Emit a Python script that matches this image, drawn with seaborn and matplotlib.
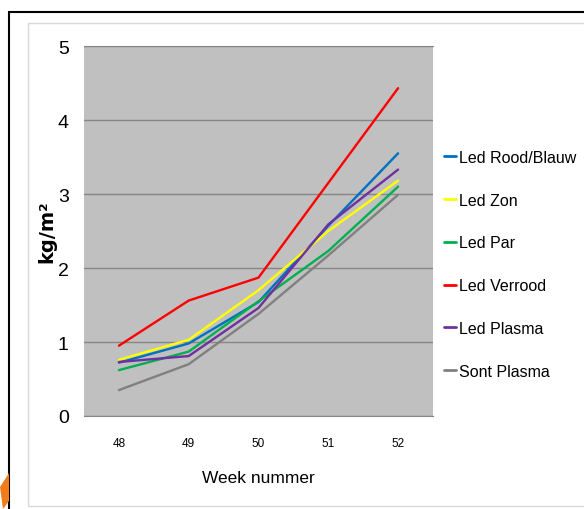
import matplotlib
matplotlib.use("Agg")
import matplotlib.pyplot as plt
import matplotlib.patches as mpatches
import seaborn as sns
import pandas as pd
from matplotlib.ticker import FixedLocator

# Weekly cumulative yield per lighting treatment (kg/m²)
weeks = ["48", "49", "50", "51", "52"]
led_rood_blauw = [0.72, 0.98, 1.54, 2.57, 3.55]
led_zon = [0.76, 1.03, 1.70, 2.50, 3.18]
led_par = [0.62, 0.87, 1.55, 2.23, 3.10]
led_verrood = [0.95, 1.56, 1.87, 3.15, 4.43]
led_plasma = [0.73, 0.81, 1.46, 2.59, 3.33]
sont_plasma = [0.35, 0.70, 1.38, 2.17, 2.99]

series_names = ["Led Rood/Blauw", "Led Zon", "Led Par", "Led Verrood",
                "Led Plasma", "Sont Plasma"]
series_values = [led_rood_blauw, led_zon, led_par, led_verrood,
                 led_plasma, sont_plasma]
colors = ["#0070C0", "#FFFF00", "#00B050", "#FF0000", "#7030A0", "#808080"]

rows = []
for name, vals in zip(series_names, series_values):
    for w, v in zip(weeks, vals):
        rows.append({"week": w, "value": v, "serie": name})
df = pd.DataFrame(rows)

sns.set_style("white")
plt.rcParams["font.family"] = ["Liberation Sans", "DejaVu Sans"]

fig = plt.figure(figsize=(5.84, 5.10), dpi=100)

# outer frame and inner chart border
fig.add_artist(mpatches.Rectangle((9 / 584, -0.1), 1.0, (510 - 13) / 510 + 0.1,
                                  transform=fig.transFigure, fill=False,
                                  edgecolor="black", linewidth=1.5))
fig.add_artist(mpatches.Rectangle((28 / 584, (510 - 507) / 510), 1.0,
                                  (507 - 24) / 510,
                                  transform=fig.transFigure, fill=False,
                                  edgecolor="#d9d9d9", linewidth=1.0))
# small orange corner mark
fig.add_artist(mpatches.Polygon([(0, 22 / 510), (9 / 584, 36 / 510),
                                 (9 / 584, 8 / 510), (3 / 584, 0)],
                                closed=True, transform=fig.transFigure,
                                facecolor="#F07D1A", edgecolor="none"))

ax = fig.add_axes([84 / 584, (510 - 417) / 510, 349 / 584, 370 / 510])
ax.set_facecolor("#C0C0C0")

sns.lineplot(data=df, x="week", y="value", hue="serie",
             hue_order=series_names, palette=colors, linewidth=1.7,
             sort=False, ax=ax, legend=True)

ax.set_xlim(-0.5, 4.5)
ax.set_ylim(0, 5)
ax.set_yticks([0, 1, 2, 3, 4, 5])
ax.set_yticklabels(["0", "1", "2", "3", "4", "5"], fontsize=14)
ax.yaxis.grid(True, color="#868686", linewidth=1)
ax.set_axisbelow(True)
ax.tick_params(axis="y", length=6, width=1, color="#868686", pad=5,
               labelcolor="black")

ax.set_xticks(range(5))
ax.set_xticklabels(weeks, fontsize=8.5)
ax.tick_params(axis="x", which="major", length=0, pad=15, labelcolor="black")
ax.xaxis.set_minor_locator(FixedLocator([-0.5, 0.5, 1.5, 2.5, 3.5, 4.5]))
ax.tick_params(axis="x", which="minor", length=6, width=1, color="#868686")

for side in ["left", "right"]:
    ax.spines[side].set_visible(False)
ax.spines["top"].set_color("#868686")
ax.spines["bottom"].set_color("#868686")

ax.set_xlabel("Week nummer", fontsize=12.5, labelpad=15, color="black")
ax.set_ylabel("kg/m²", fontsize=14, fontweight="bold",
              family=["DejaVu Sans"], color="black")
ax.yaxis.set_label_coords(-0.08, 0.5)

handles, labels = ax.get_legend_handles_labels()
for h in handles:
    h.set_linewidth(2)
ax.legend(handles, labels, loc="center left", bbox_to_anchor=(1.012, 0.41),
          frameon=False, fontsize=11.5, handlelength=0.8, handletextpad=0.15,
          labelspacing=1.74, borderaxespad=0, labelcolor="black")

fig.savefig("out.png", dpi=100)
